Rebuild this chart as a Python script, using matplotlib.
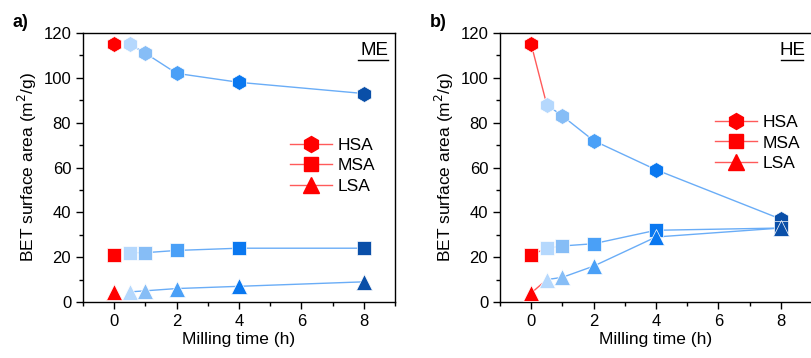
import matplotlib.pyplot as plt
from matplotlib.lines import Line2D

plt.rcParams['font.family'] = ['Liberation Sans', 'DejaVu Sans']

# milling time (h)
times = [0, 0.5, 1, 2, 4, 8]

# BET surface area (m2/g), ME panel
me_hsa = [115, 115, 111, 102, 98, 93]
me_msa = [21, 22, 22, 23, 24, 24]
me_lsa = [4.5, 4.5, 5, 6, 7, 9]

# BET surface area (m2/g), HE panel
he_hsa = [115, 88, 83, 72, 59, 37]
he_msa = [21, 24, 25, 26, 32, 33]
he_lsa = [4, 10, 11, 16, 29, 33]

series_names = ['HSA', 'MSA', 'LSA']
markers = ['h', 's', '^']
msizes = [11.5, 9.5, 11]
# one colour per milling time, red = starting material
point_colors = ['#ff0000', '#b5d8fd', '#86bdf6', '#4aa0f7', '#0a78f0', '#0a4fa8']
line_blue = '#6aadf7'
line_red = '#ff5a5a'


def draw_panel(ax, data, red_link, tag, letter, leg_anchor, ul):
    for vals, m, ms in zip(data, markers, msizes):
        ax.plot(times[1:], vals[1:], color=line_blue, lw=1, zorder=1)
        if red_link:
            ax.plot(times[:2], vals[:2], color=line_red, lw=1, zorder=1)
        for t, v, c in zip(times, vals, point_colors):
            ax.plot(t, v, marker=m, color=c, markersize=ms, mec='white', mew=0.5,
                    ls='none', zorder=3)

    ax.set_xlim(-1, 9)
    ax.set_ylim(0, 120)
    ax.set_xticks([0, 2, 4, 6, 8])
    ax.set_xticks([-1, 1, 3, 5, 7, 9], minor=True)
    ax.set_yticks(range(0, 121, 20))
    ax.set_yticks(range(10, 120, 20), minor=True)
    ax.tick_params(which='major', direction='out', length=5, width=1, labelsize=12)
    ax.tick_params(which='minor', direction='out', length=3, width=1)
    for s in ax.spines.values():
        s.set_linewidth(1)
    ax.set_xlabel('Milling time (h)', fontsize=12.5, labelpad=2)
    ax.set_ylabel('BET surface area (m$^2$/g)', fontsize=12.5, labelpad=3)

    ax.text(0.978, 0.935, tag, transform=ax.transAxes, ha='right', va='center',
            fontsize=13.5)
    ax.plot(ul, [0.9, 0.9], transform=ax.transAxes, color='k', lw=1)
    ax.text(-0.225, 1.04, letter, transform=ax.transAxes, ha='left', va='center',
            fontsize=13, fontweight='bold')

    handles = [Line2D([], [], color=line_red, lw=1, marker=m, markersize=ms,
                      markerfacecolor='#ff0000', markeredgecolor='#ff0000')
               for m, ms in zip(markers, msizes)]
    ax.legend(handles, series_names, loc='upper left', bbox_to_anchor=leg_anchor,
              frameon=False, fontsize=12.5, handlelength=2.4, borderpad=0,
              borderaxespad=0, labelspacing=0.3, handletextpad=0.3)


fig = plt.figure(figsize=(8.11, 3.58), dpi=100)
ax1 = fig.add_axes([0.1023, 0.1564, 0.3847, 0.7514])
ax2 = fig.add_axes([0.6165, 0.1564, 0.3847, 0.7514])

draw_panel(ax1, [me_hsa, me_msa, me_lsa], False, 'ME', 'a)', (0.665, 0.61),
           [0.88, 0.978])
draw_panel(ax2, [he_hsa, he_msa, he_lsa], True, 'HE', 'b)', (0.69, 0.695),
           [0.9, 0.972])

fig.savefig('out.png', dpi=100)
